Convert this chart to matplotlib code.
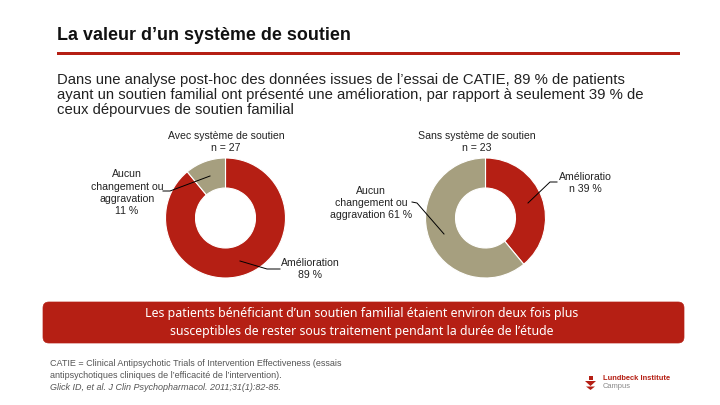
import matplotlib
matplotlib.use('Agg')
import matplotlib.pyplot as plt
from matplotlib.patches import FancyBboxPatch, Polygon, Rectangle

plt.rcParams['font.family'] = ['Liberation Sans', 'DejaVu Sans']

RED = '#b51f14'
TAUPE = '#a69f7f'
W, H = 720, 405

# values in %, clockwise from 12 o'clock
with_support = [89, 11]
without_support = [39, 61]
donut_colors = [RED, TAUPE]

title = 'La valeur d\u2019un syst\u00e8me de soutien'
intro = ['Dans une analyse post-hoc des donn\u00e9es issues de l\u2019essai de CATIE, 89 % de patients',
         'ayant un soutien familial ont pr\u00e9sent\u00e9 une am\u00e9lioration, par rapport \u00e0 seulement 39 % de',
         'ceux d\u00e9pourvues de soutien familial']
banner = ['Les patients b\u00e9n\u00e9ficiant d\u2019un soutien familial \u00e9taient environ deux fois plus',
          'susceptibles de rester sous traitement pendant la dur\u00e9e de l\u2019\u00e9tude']
foot = ['CATIE = Clinical Antipsychotic Trials of Intervention Effectiveness (essais',
        'antipsychotiques cliniques de l\u2019efficacit\u00e9 de l\u2019intervention).',
        'Glick ID, et al. J Clin Psychopharmacol. 2011;31(1):82-85.']

fig = plt.figure(figsize=(W / 100, H / 100), dpi=100, facecolor='white')


def donut(values, cx, cy, r):
    ax = fig.add_axes([(cx - r) / W, 1 - (cy + r) / H, 2 * r / W, 2 * r / H])
    ax.pie(values, colors=donut_colors, startangle=90, counterclock=False, radius=1,
           wedgeprops=dict(width=0.5, edgecolor='white', linewidth=0.8))
    ax.set_xlim(-1, 1)
    ax.set_ylim(-1, 1)
    ax.set_zorder(1)


donut(with_support, 225.5, 218, 60)
donut(without_support, 485.5, 218, 60)

# page layer in pixel coords, y down, on top so leader lines sit over the donuts
over = fig.add_axes([0, 0, 1, 1])
over.set_xlim(0, W)
over.set_ylim(H, 0)
over.axis('off')
over.set_zorder(2)
over.patch.set_alpha(0)

over.text(57, 35, title, fontsize=12.9, fontweight='bold', color='#111111', va='center')
over.add_patch(Rectangle((57, 52), 623, 2.5, color=RED, lw=0))

for i, line in enumerate(intro):
    over.text(57, 80 + i * 15, line, fontsize=10.7, color='#222222', va='center')

chart_text = [
    (226, 136, 'Avec syst\u00e8me de soutien'), (226, 148, 'n = 27'),
    (127, 174, 'Aucun'), (127, 186.5, 'changement ou'), (127, 199, 'aggravation'), (127, 211, '11 %'),
    (310, 263, 'Am\u00e9lioration'), (310, 275, '89 %'),
    (477, 136, 'Sans syst\u00e8me de soutien'), (477, 148, 'n = 23'),
    (371, 191, 'Aucun'), (371, 203, 'changement ou'), (371, 215, 'aggravation 61 %'),
    (585, 177, 'Am\u00e9lioratio'), (585, 189, 'n 39 %'),
]
for x, y, s in chart_text:
    over.text(x, y, s, fontsize=7.6, color='#222222', ha='center', va='center')

leaders = [
    ([163, 170, 210], [191, 191, 176]),
    ([240, 267, 280], [261, 269, 269]),
    ([557, 550, 528], [182, 182, 203]),
    ([412, 417, 444], [202, 203, 234]),
]
for xs, ys in leaders:
    over.plot(xs, ys, color='black', lw=0.7)

over.add_patch(FancyBboxPatch((43, 302), 641, 41, boxstyle='round,pad=0,rounding_size=6',
                              fc=RED, ec=RED, lw=0.5))
for i, line in enumerate(banner):
    over.text(362, 314 + i * 17, line, fontsize=8.95, fontweight='bold', family='Noto Sans',
              color='white', ha='center', va='center')

for i, line in enumerate(foot):
    over.text(50, 363 + i * 12, line, fontsize=6.5, color='#555555', va='center',
              style='italic' if i == 2 else 'normal')

# small logo, bottom right
over.add_patch(Rectangle((588.5, 376), 4, 3.5, color=RED, lw=0))
over.add_patch(Polygon([[585, 381], [596, 381], [590.5, 386]], color=RED, lw=0))
over.add_patch(Polygon([[586, 386.5], [595, 386.5], [590.5, 390]], color=RED, lw=0))
over.text(603, 379, 'Lundbeck Institute', fontsize=5.4, fontweight='bold', color=RED, va='center')
over.text(603, 387, 'Campus', fontsize=5.4, color='#888888', va='center')

fig.savefig('out.png', dpi=100)
